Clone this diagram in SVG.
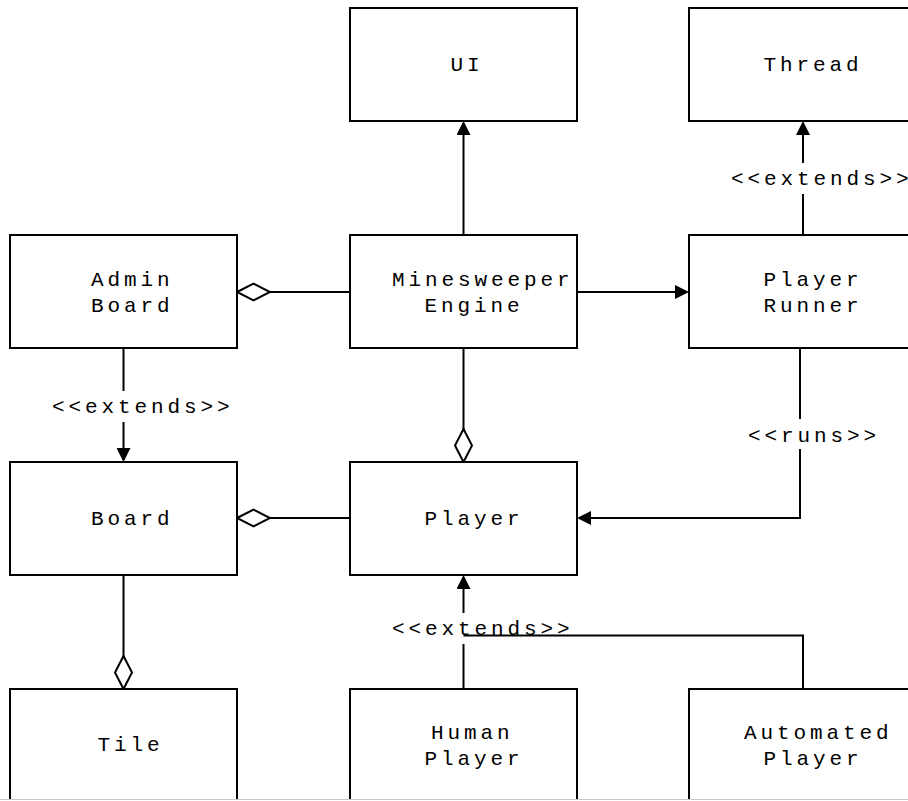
<svg xmlns="http://www.w3.org/2000/svg" width="908" height="801" viewBox="0 0 908 801">
<style>
  .box { fill: #ffffff; stroke: #000000; stroke-width: 2; }
  .t { font-family: "Liberation Mono", "Courier New", monospace; font-size: 21px; letter-spacing: 3.9px; fill: #000000; }
  .edge { fill: none; stroke: #000000; stroke-width: 2; }
  .lblbg { fill: #ffffff; stroke: none; }
</style>
<defs>
  <marker id="arrow" viewBox="0 0 14 14" refX="12" refY="7" markerWidth="14" markerHeight="14" markerUnits="userSpaceOnUse" orient="auto">
    <path d="M0,0 L14,7 L0,14 Z" fill="#000000"/>
  </marker>
  <marker id="diamond" viewBox="0 0 33 17" refX="0" refY="8.5" markerWidth="33" markerHeight="17" markerUnits="userSpaceOnUse" orient="auto" overflow="visible">
    <path d="M0,8.5 L16.5,0 L33,8.5 L16.5,17 Z" fill="#ffffff" stroke="#000000" stroke-width="2"/>
  </marker>
</defs>
<rect x="0" y="0" width="908" height="801" fill="#ffffff"/>

<g id="connectors">
  <path class="edge" d="M463.5,235 L463.5,123" marker-end="url(#arrow)"/>
  <path class="edge" d="M577,292 L687,292" marker-end="url(#arrow)"/>
  <path class="edge" d="M803,235 L803,123" marker-end="url(#arrow)"/>
  <rect class="lblbg" x="731" y="163" width="177" height="31"/>
  <text class="t" x="731" y="185">&lt;&lt;extends&gt;&gt;</text>
  <path class="edge" d="M237,292 L350,292" marker-start="url(#diamond)"/>
  <path class="edge" d="M123.5,348 L123.5,460" marker-end="url(#arrow)"/>
  <rect class="lblbg" x="52" y="391" width="180" height="31"/>
  <text class="t" x="52" y="413">&lt;&lt;extends&gt;&gt;</text>
  <path class="edge" d="M463.5,462 L463.5,348" marker-start="url(#diamond)"/>
  <path class="edge" d="M800,348 L800,518 L579,518" marker-end="url(#arrow)"/>
  <rect class="lblbg" x="748" y="419" width="132" height="30"/>
  <text class="t" x="748" y="442">&lt;&lt;runs&gt;&gt;</text>
  <path class="edge" d="M237,518 L350,518" marker-start="url(#diamond)"/>
  <path class="edge" d="M123.5,689 L123.5,575" marker-start="url(#diamond)"/>
  <path class="edge" d="M463.5,689 L463.5,577" marker-end="url(#arrow)"/>
  <rect class="lblbg" x="392" y="613" width="180" height="31"/>
  <text class="t" x="392" y="635">&lt;&lt;extends&gt;&gt;</text>
  <path class="edge" d="M803,689 L803,635.5 L463.5,635.5"/>
</g>

<g id="ui">
  <rect class="box" x="350" y="8" width="227" height="113"/>
  <text class="t" x="450.5" y="71">UI</text>
</g>
<g id="thread">
  <rect class="box" x="689" y="8" width="227" height="113"/>
  <text class="t" x="763.5" y="71">Thread</text>
</g>
<g id="admin-board">
  <rect class="box" x="10" y="235" width="227" height="113"/>
  <text class="t" x="91" y="286">Admin</text>
  <text class="t" x="91" y="311.5">Board</text>
</g>
<g id="minesweeper-engine">
  <rect class="box" x="350" y="235" width="227" height="113"/>
  <text class="t" x="392" y="286">Minesweeper</text>
  <text class="t" x="424.5" y="311.5">Engine</text>
</g>
<g id="player-runner">
  <rect class="box" x="689" y="235" width="227" height="113"/>
  <text class="t" x="763.5" y="286">Player</text>
  <text class="t" x="763.5" y="311.5">Runner</text>
</g>
<g id="board">
  <rect class="box" x="10" y="462" width="227" height="113"/>
  <text class="t" x="91" y="525">Board</text>
</g>
<g id="player">
  <rect class="box" x="350" y="462" width="227" height="113"/>
  <text class="t" x="424.5" y="525">Player</text>
</g>
<g id="tile">
  <rect class="box" x="10" y="689" width="227" height="113"/>
  <text class="t" x="97.5" y="751">Tile</text>
</g>
<g id="human-player">
  <rect class="box" x="350" y="689" width="227" height="113"/>
  <text class="t" x="431" y="739">Human</text>
  <text class="t" x="424.5" y="764.5">Player</text>
</g>
<g id="automated-player">
  <rect class="box" x="689" y="689" width="227" height="113"/>
  <text class="t" x="744" y="739">Automated</text>
  <text class="t" x="763.5" y="764.5">Player</text>
</g>
<line x1="0" y1="799.5" x2="908" y2="799.5" stroke="#c8c8c8" stroke-width="1"/>
<rect x="0" y="800" width="908" height="1" fill="#ffffff"/>
</svg>
